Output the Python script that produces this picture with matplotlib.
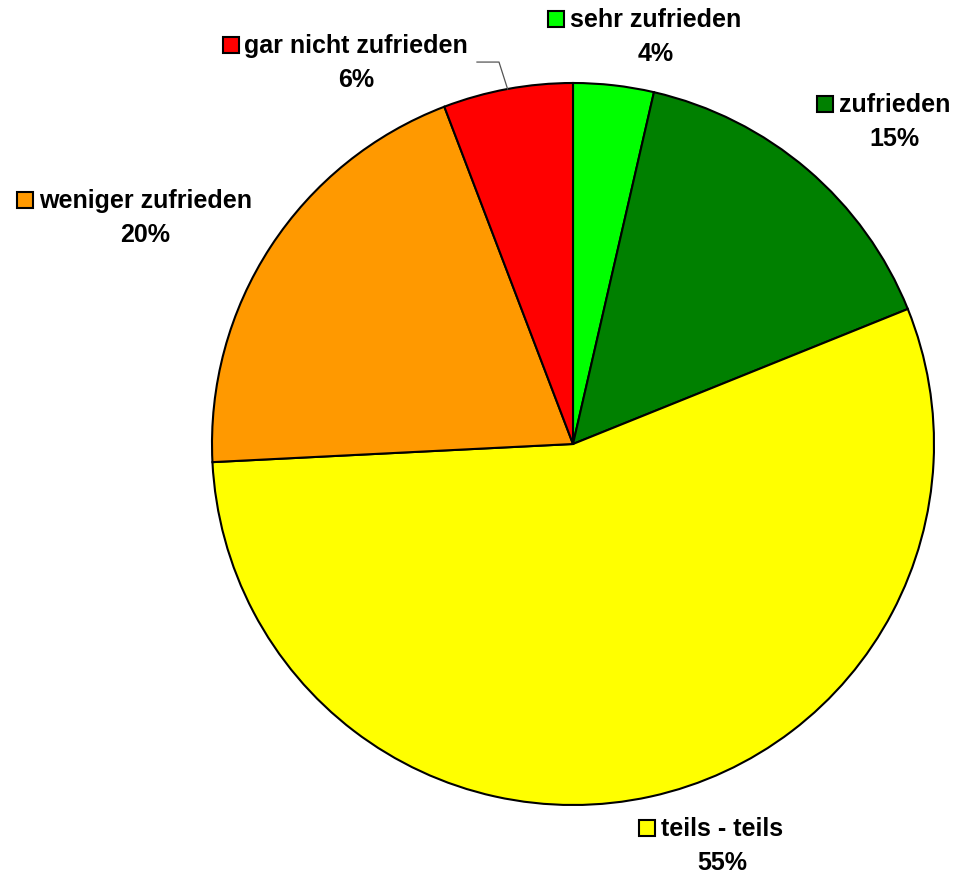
import numpy as np
import matplotlib
matplotlib.use("Agg")
import matplotlib.pyplot as plt
from matplotlib.patches import Rectangle
from matplotlib.offsetbox import AnnotationBbox, TextArea, DrawingArea, HPacker, VPacker

categories = ["sehr zufrieden", "zufrieden", "teils - teils", "weniger zufrieden", "gar nicht zufrieden"]
values = [3.6, 15.3, 55.3, 20.0, 5.8]
colors = ["#00FF00", "#008000", "#FFFF00", "#FF9900", "#FF0000"]

# label block centres in pie units (radius = 1)
label_pos = [(0.197, 1.127), (0.860, 0.892), (0.382, -1.114), (-1.216, 0.626), (-0.632, 1.055)]

plt.rcParams['font.family'] = ['Liberation Sans', 'DejaVu Sans']

W, H, DPI = 957, 876, 100
CX, CY, R = 573, 444, 361

fig = plt.figure(figsize=(W / DPI, H / DPI), dpi=DPI)
ax = fig.add_axes([0, 0, 1, 1])

wedges, _ = ax.pie(values, colors=colors, startangle=90, counterclock=False,
                   radius=1, wedgeprops=dict(edgecolor="black", linewidth=1.5))

ax.set_xlim(-CX / R, (W - CX) / R)
ax.set_ylim(-(H - CY) / R, CY / R)
ax.set_aspect("equal")
ax.axis("off")

total = sum(values)
for name, v, c, pos in zip(categories, values, colors, label_pos):
    box = DrawingArea(13, 16.9, 0, 0)
    box.add_artist(Rectangle((0.75, 3.6), 11.5, 11.5, facecolor=c, edgecolor="black", linewidth=1.5))
    name_txt = TextArea(name, textprops=dict(fontsize=18, fontweight="bold"))
    pct = TextArea("%d%%" % round(v / total * 100), textprops=dict(fontsize=18, fontweight="bold"))
    col = VPacker(children=[name_txt, pct], align="center", pad=0, sep=7)
    block = HPacker(children=[box, col], align="top", pad=0, sep=3.5)
    ab = AnnotationBbox(block, pos, xycoords="data", frameon=False, box_alignment=(0.5, 0.5))
    ax.add_artist(ab)

# leader line for the small red slice
w = wedges[4]
mid = np.deg2rad((w.theta1 + w.theta2) / 2)
ex, ey = np.cos(mid), np.sin(mid)
ax.plot([-0.266, -0.205, ex], [1.058, 1.058, ey], color="#555555", linewidth=0.9)

fig.savefig("out.png", dpi=DPI)
